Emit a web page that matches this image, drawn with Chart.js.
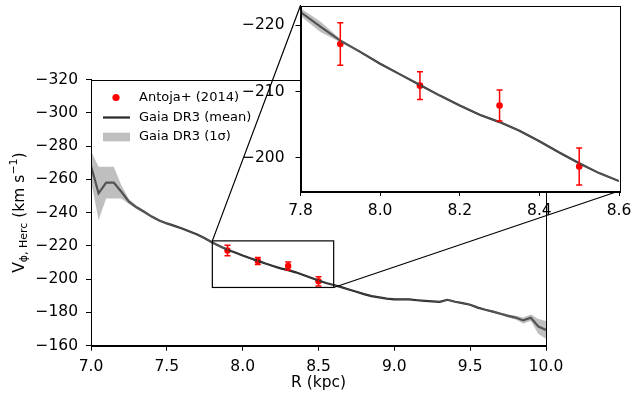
<!DOCTYPE html>
<html>
<head>
<meta charset="utf-8">
<script src="https://cdn.jsdelivr.net/npm/chart.js@4.4.0/dist/chart.umd.min.js"></script>
<style>
  html, body { margin: 0; padding: 0; background: #fff; }
  #wrap { position: relative; width: 631px; height: 401px; }
  canvas { position: absolute; left: 0; top: 0; }
</style>
</head>
<body>
<div id="wrap">
  <canvas id="mainChart" width="631" height="401"></canvas>
  <canvas id="insetChart" width="631" height="401"></canvas>
</div>
<script>
/*............ data ............*/
const radius = [7.00, 7.05, 7.10, 7.15, 7.20, 7.25, 7.30, 7.35, 7.40, 7.45,
  7.50, 7.55, 7.60, 7.65, 7.70, 7.75, 7.80, 7.85, 7.90, 7.95,
  8.00, 8.05, 8.10, 8.15, 8.20, 8.25, 8.30, 8.35, 8.40, 8.45,
  8.50, 8.55, 8.60, 8.65, 8.70, 8.75, 8.80, 8.85, 8.90, 8.95,
  9.00, 9.05, 9.10, 9.15, 9.20, 9.25, 9.30, 9.35, 9.40, 9.45,
  9.50, 9.55, 9.60, 9.65, 9.70, 9.75, 9.80, 9.85, 9.90, 9.95, 10.00];
const vMean = [-268, -251.6, -258, -258, -252.5, -246.6, -243.2, -240.5, -237.6, -235.2,
  -233.5, -232, -230.4, -228.6, -226.8, -224.6, -222.0, -219.8, -217.7, -216.0,
  -214.2, -212.6, -211.0, -209.4, -207.9, -206.5, -205.4, -204.1, -202.5, -200.8,
  -199.2, -197.7, -196.5, -195.2, -193.8, -192.4, -191.0, -189.8, -189.0, -188.3,
  -187.9, -187.8, -187.8, -187.3, -186.9, -186.6, -186.4, -187.6, -186.4, -185.6,
  -184.6, -182.9, -181.6, -180.5, -179.2, -177.9, -176.9, -175.2, -176.8, -171.5, -169.5];
const vSigma = [9, 16, 9.5, 9.5, 4, 1.5, 1.0, 0.8, 0.7, 0.6,
  0.5, 0.4, 0.4, 0.4, 0.4, 0.5, 0.6, 0.8, 0.25, 0.12,
  0.12, 0.12, 0.12, 0.12, 0.12, 0.12, 0.12, 0.12, 0.12, 0.12,
  0.12, 0.12, 0.12, 0.15, 0.15, 0.15, 0.15, 0.15, 0.2, 0.2,
  0.2, 0.2, 0.2, 0.2, 0.2, 0.25, 0.25, 0.4, 0.4, 0.4,
  0.4, 0.45, 0.5, 0.6, 0.7, 0.9, 1.1, 1.8, 2.0, 4.5, 5.3];

const antojaR = [7.9, 8.1, 8.3, 8.5];
const antojaV = [-217.2, -210.9, -207.9, -198.7];
const antojaErr = [3.2, 2.1, 2.35, 2.8];

const mainXTicks = [7.0, 7.5, 8.0, 8.5, 9.0, 9.5, 10.0];
const mainYTicks = [-320, -300, -280, -260, -240, -220, -200, -180, -160];
const insetXTicks = [7.8, 8.0, 8.2, 8.4, 8.6];
const insetYTicks = [-220, -210, -200];
const zoomX = [7.8, 8.6];
const zoomY = [-223, -195];

const legendLabels = ['Antoja+ (2014)', 'Gaia DR3 (mean)', 'Gaia DR3 (1\u03c3)'];

/*............ helpers ............*/
const FONT = "'DejaVu Sans', sans-serif";
const TICK_SIZE = 15.5;
const LINE = '#262626';
const BAND = 'rgba(128,128,128,0.5)';

const fmtY = v => (v < 0 ? '\u2212' : '') + Math.abs(v).toFixed(0);
const fmtX = v => v.toFixed(1);

function makeDatasets(dotRadius) {
  return [
    {
      label: 'lower',
      data: radius.map((r, i) => ({ x: r, y: vMean[i] - vSigma[i] })),
      borderColor: 'transparent', borderWidth: 0, pointRadius: 0, fill: false
    },
    {
      label: legendLabels[2],
      data: radius.map((r, i) => ({ x: r, y: vMean[i] + vSigma[i] })),
      borderColor: 'transparent', borderWidth: 0, pointRadius: 0,
      fill: '-1', backgroundColor: BAND
    },
    {
      label: legendLabels[1],
      data: radius.map((r, i) => ({ x: r, y: vMean[i] })),
      borderColor: LINE, borderWidth: 2.2, pointRadius: 0, fill: false
    },
    {
      label: legendLabels[0],
      data: antojaR.map((r, i) => ({ x: r, y: antojaV[i] })),
      showLine: false, pointRadius: dotRadius, pointBackgroundColor: '#ff0000',
      pointBorderWidth: 0, fill: false
    }
  ];
}

// fixed-size axis box, no extra label padding so the plot area sits where the layout padding says
function axis(min, max, ticks, fmt, size, reverse, pad) {
  return {
    type: 'linear', min: min, max: max, reverse: !!reverse,
    afterBuildTicks: s => { s.ticks = ticks.map(v => ({ value: v })); },
    afterFit: s => {
      if (s.isHorizontal()) { s.height = size; s.paddingLeft = 0; s.paddingRight = 0; }
      else { s.width = size; s.paddingTop = 0; s.paddingBottom = 0; }
    },
    ticks: {
      callback: fmt, color: '#000', autoSkip: false, maxRotation: 0,
      font: { family: FONT, size: TICK_SIZE }, padding: pad
    },
    grid: { display: true, drawOnChartArea: false, drawTicks: true, tickLength: 5, tickWidth: 1, color: '#000' },
    border: { display: true, color: '#000', width: 1 }
  };
}

const errorBars = {
  id: 'errorBars',
  afterDatasetsDraw(chart) {
    const { ctx, chartArea, scales } = chart;
    ctx.save();
    ctx.beginPath();
    ctx.rect(chartArea.left, chartArea.top, chartArea.right - chartArea.left, chartArea.bottom - chartArea.top);
    ctx.clip();
    ctx.strokeStyle = '#ff0000';
    ctx.lineWidth = 1.5;
    antojaR.forEach((r, i) => {
      const x = scales.x.getPixelForValue(r);
      const y1 = scales.y.getPixelForValue(antojaV[i] - antojaErr[i]);
      const y2 = scales.y.getPixelForValue(antojaV[i] + antojaErr[i]);
      ctx.beginPath();
      ctx.moveTo(x, y1); ctx.lineTo(x, y2);
      ctx.moveTo(x - 3, y1); ctx.lineTo(x + 3, y1);
      ctx.moveTo(x - 3, y2); ctx.lineTo(x + 3, y2);
      ctx.stroke();
    });
    ctx.restore();
  }
};

const frame = {
  id: 'frame',
  beforeDraw(chart, args, opts) {
    if (!opts.fill) return;
    const a = chart.chartArea;
    chart.ctx.save();
    chart.ctx.fillStyle = '#fff';
    chart.ctx.fillRect(a.left, a.top, a.right - a.left, a.bottom - a.top);
    chart.ctx.restore();
  },
  afterDraw(chart) {
    const a = chart.chartArea;
    const ctx = chart.ctx;
    ctx.save();
    ctx.strokeStyle = '#000';
    ctx.lineWidth = 1;
    ctx.strokeRect(Math.round(a.left) + 0.5, Math.round(a.top) + 0.5,
      Math.round(a.right - a.left), Math.round(a.bottom - a.top));
    ctx.restore();
  }
};

/*............ inset chart ............*/
const insetChart = new Chart(document.getElementById('insetChart').getContext('2d'), {
  type: 'line',
  data: { datasets: makeDatasets(3.3) },
  options: {
    responsive: false, animation: false,
    layout: { padding: { left: 0, top: 5.5, right: 12, bottom: 0 } },
    plugins: { legend: { display: false }, tooltip: { enabled: false }, frame: { fill: true } },
    scales: {
      x: axis(zoomX[0], zoomX[1], insetXTicks, fmtX, 210, false, 6),
      y: axis(zoomY[0], zoomY[1], insetYTicks, fmtY, 300.5, true, 11)
    }
  },
  plugins: [frame, errorBars]
});

/*............ main chart ............*/
const zoomBox = {
  id: 'zoomBox',
  afterDatasetsDraw(chart) {
    const { ctx, scales } = chart;
    const x1 = scales.x.getPixelForValue(zoomX[0]);
    const x2 = scales.x.getPixelForValue(zoomX[1]);
    const y1 = scales.y.getPixelForValue(zoomY[0]);
    const y2 = scales.y.getPixelForValue(zoomY[1]);
    const ia = insetChart.chartArea;
    ctx.save();
    ctx.strokeStyle = '#000';
    ctx.lineWidth = 1.2;
    ctx.strokeRect(x1, y1, x2 - x1, y2 - y1);
    ctx.beginPath();
    ctx.moveTo(x1, y1); ctx.lineTo(ia.left, ia.top);
    ctx.moveTo(x2, y2); ctx.lineTo(ia.right, ia.bottom);
    ctx.stroke();
    ctx.restore();
  }
};

const legendAndTitles = {
  id: 'legendAndTitles',
  afterDraw(chart) {
    const { ctx, chartArea: a } = chart;
    ctx.save();
    // legend
    const lx = a.left + 12, tx = a.left + 48;
    const rows = [a.top + 18, a.top + 38, a.top + 57.5];
    ctx.fillStyle = '#ff0000';
    ctx.beginPath();
    ctx.arc(lx + 13, rows[0], 3.6, 0, Math.PI * 2);
    ctx.fill();
    ctx.strokeStyle = LINE;
    ctx.lineWidth = 2.2;
    ctx.beginPath();
    ctx.moveTo(lx, rows[1]); ctx.lineTo(lx + 27, rows[1]);
    ctx.stroke();
    ctx.fillStyle = BAND;
    ctx.fillRect(lx, rows[2] - 4.3, 27, 8.6);
    ctx.fillStyle = '#000';
    ctx.font = '13px ' + FONT;
    ctx.textBaseline = 'middle';
    ctx.textAlign = 'left';
    legendLabels.forEach((t, i) => ctx.fillText(t, tx, rows[i]));

    // x title
    ctx.font = TICK_SIZE + 'px ' + FONT;
    ctx.textAlign = 'center';
    ctx.fillText('R (kpc)', (a.left + a.right) / 2, 383);

    // y title with sub/superscripts
    const parts = [
      { t: 'V', s: TICK_SIZE, dy: 0 },
      { t: '\u03d5, Herc', s: 11, dy: 4.5 },
      { t: ' (km s', s: TICK_SIZE, dy: 0 },
      { t: '\u22121', s: 11, dy: -6 },
      { t: ')', s: TICK_SIZE, dy: 0 }
    ];
    let total = 0;
    parts.forEach(p => { ctx.font = p.s + 'px ' + FONT; p.w = ctx.measureText(p.t).width; total += p.w; });
    ctx.translate(20, (a.top + a.bottom) / 2);
    ctx.rotate(-Math.PI / 2);
    ctx.textAlign = 'left';
    let cx = -total / 2;
    parts.forEach(p => {
      ctx.font = p.s + 'px ' + FONT;
      ctx.fillText(p.t, cx, p.dy);
      cx += p.w;
    });
    ctx.restore();
  }
};

const mainChart = new Chart(document.getElementById('mainChart').getContext('2d'), {
  type: 'line',
  data: { datasets: makeDatasets(3.2) },
  options: {
    responsive: false, animation: false,
    layout: { padding: { left: 0, top: 79.5, right: 85, bottom: 0 } },
    plugins: { legend: { display: false }, tooltip: { enabled: false }, frame: { fill: false } },
    scales: {
      x: axis(7.0, 10.0, mainXTicks, fmtX, 55.3, false, 7),
      y: axis(-320, -160, mainYTicks, fmtY, 91, true, 8)
    }
  },
  plugins: [frame, errorBars, zoomBox, legendAndTitles]
});
</script>
</body>
</html>
